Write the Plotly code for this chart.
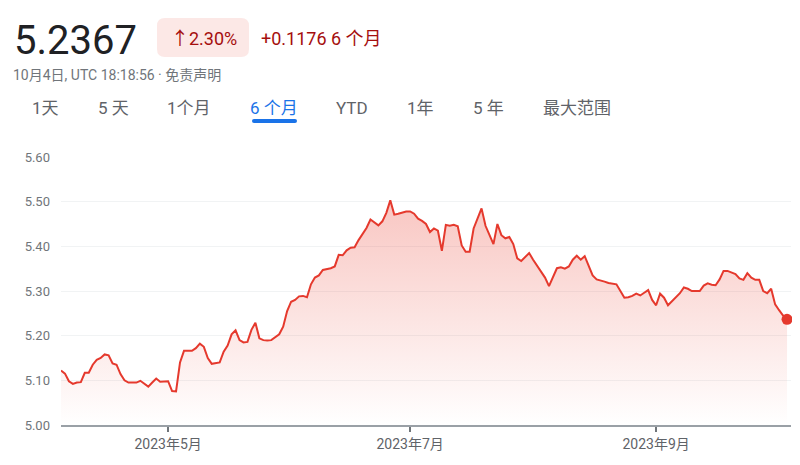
import pandas as pd
import plotly.graph_objects as go

# ---- data ----
start_date = "2023-04-04"
values = [
    5.122, 5.115, 5.098, 5.092, 5.095, 5.096, 5.117, 5.117, 5.135, 5.146,
    5.150, 5.158, 5.156, 5.138, 5.135, 5.114, 5.100, 5.095, 5.095, 5.095,
    5.099, 5.092, 5.086, 5.095, 5.104, 5.097, 5.097,
    5.098, 5.076, 5.075, 5.140, 5.166, 5.166, 5.166, 5.172, 5.182, 5.175,
    5.150, 5.137, 5.138, 5.140, 5.164, 5.178, 5.203, 5.212, 5.190, 5.185,
    5.186, 5.213, 5.229, 5.194, 5.190, 5.189, 5.190, 5.197, 5.203, 5.220,
    5.255, 5.276, 5.280, 5.288, 5.289, 5.286, 5.315, 5.330, 5.335, 5.347,
    5.349, 5.351, 5.355, 5.381, 5.380, 5.391, 5.397, 5.398, 5.414, 5.427,
    5.441, 5.460, 5.454, 5.447, 5.456, 5.475, 5.503, 5.471, 5.473, 5.476,
    5.478, 5.478, 5.473, 5.462, 5.457, 5.450, 5.432, 5.440, 5.435, 5.390,
    5.448, 5.446, 5.448, 5.445, 5.402, 5.388, 5.388, 5.440, 5.465, 5.485,
    5.446, 5.425, 5.405, 5.450, 5.425, 5.418, 5.421, 5.405, 5.373, 5.367,
    5.376, 5.385, 5.370, 5.356, 5.343, 5.330, 5.311, 5.330, 5.351, 5.353,
    5.350, 5.355, 5.370, 5.379, 5.370, 5.378, 5.355, 5.335, 5.326, 5.324,
    5.321, 5.318, 5.316, 5.315, 5.300, 5.285, 5.286, 5.289, 5.294, 5.290,
    5.296, 5.302, 5.280, 5.268, 5.294, 5.285, 5.268, 5.277, 5.284, 5.295,
    5.308, 5.305, 5.300, 5.300, 5.300, 5.312, 5.317, 5.314, 5.313, 5.326,
    5.345, 5.345, 5.341, 5.338, 5.328, 5.325, 5.340, 5.330, 5.325, 5.325,
    5.300, 5.295, 5.305, 5.270, 5.257, 5.245, 5.2367,
]
dates = pd.date_range(start_date, periods=len(values), freq="D")

x_tick_vals = ["2023-05-01", "2023-07-01", "2023-09-01"]
x_tick_text = ["2023年5月", "2023年7月", "2023年9月"]
y_tick_vals = [5.0, 5.1, 5.2, 5.3, 5.4, 5.5, 5.6]

price_text = "5.2367"
pct_text = "↑2.30%"
change_text = "+0.1176 6 个月"
time_text = "10月4日, UTC 18:18:56 · 免责声明"
tabs = ["1天", "5 天", "1个月", "6 个月", "YTD", "1年", "5 年", "最大范围"]
tab_x = [45, 113, 189, 274, 352, 420, 488, 577]
active_tab = "6 个月"

# ---- layout geometry (page has an 8px body margin) ----
OFF = 8
W, H = 800 - OFF, 465 - OFF
L, R, T, B = 61 - OFF, 9, 157 - OFF, 40
PW, PH = W - L - R, H - T - B
RED = "#e5392d"
FONT = "Roboto, 'Noto Sans CJK SC', sans-serif"


def px(x):
    return (x - OFF - L) / PW


def py(y):
    return (H + OFF - B - y) / PH


def rounded_rect(x0, y0, x1, y1, r):
    rx, ry = r / PW, r / PH
    X0, X1, Y0, Y1 = px(x0), px(x1), py(y1), py(y0)
    return (f"M {X0+rx} {Y0} L {X1-rx} {Y0} Q {X1} {Y0} {X1} {Y0+ry} "
            f"L {X1} {Y1-ry} Q {X1} {Y1} {X1-rx} {Y1} L {X0+rx} {Y1} "
            f"Q {X0} {Y1} {X0} {Y1-ry} L {X0} {Y0+ry} Q {X0} {Y0} {X0+rx} {Y0} Z")


fig = go.Figure()
fig.add_trace(go.Scatter(
    x=dates, y=values, mode="lines",
    line=dict(color=RED, width=2),
    fill="tozeroy",
    fillgradient=dict(type="vertical", start=5.0, stop=5.5,
                      colorscale=[[0, "rgba(234,67,53,0.0)"],
                                  [1, "rgba(234,67,53,0.30)"]]),
    hoverinfo="skip", showlegend=False,
))
fig.add_trace(go.Scatter(
    x=[dates[-1]], y=[values[-1]], mode="markers",
    marker=dict(color=RED, size=11),
    cliponaxis=False,
    hoverinfo="skip", showlegend=False,
))

annotations = [
    dict(x=px(12), y=py(40), text=price_text, xanchor="left", yanchor="middle",
         font=dict(size=40, color="#202124", family=FONT)),
    dict(x=px(204), y=py(38), text=pct_text, xanchor="center", yanchor="middle",
         font=dict(size=18, color="#a50e0e", family=FONT)),
    dict(x=px(259), y=py(38), text=change_text, xanchor="left", yanchor="middle",
         font=dict(size=18, color="#a50e0e", family=FONT)),
    dict(x=px(11), y=py(75), text=time_text, xanchor="left", yanchor="middle",
         font=dict(size=14, color="#70757a", family=FONT)),
]
for t, xc in zip(tabs, tab_x):
    annotations.append(dict(
        x=px(xc), y=py(108), text=t, xanchor="center", yanchor="middle",
        font=dict(size=17, color="#1a73e8" if t == active_tab else "#5f6368", family=FONT)))
for a in annotations:
    a.update(xref="paper", yref="paper", showarrow=False)

shapes = [
    dict(type="path", xref="paper", yref="paper",
         path=rounded_rect(157, 18, 249, 57, 8),
         fillcolor="#fce8e6", line=dict(width=0), layer="below"),
    dict(type="path", xref="paper", yref="paper",
         path=rounded_rect(252, 119, 297, 123, 2),
         fillcolor="#1a73e8", line=dict(width=0)),
]

fig.update_layout(
    width=W, height=H,
    margin=dict(l=L, r=R, t=T, b=B),
    paper_bgcolor="white", plot_bgcolor="white",
    annotations=annotations, shapes=shapes,
    font=dict(family=FONT),
    hovermode=False,
    xaxis=dict(
        range=["2023-04-04", "2023-10-05"],
        tickvals=x_tick_vals, ticktext=x_tick_text,
        showgrid=False, zeroline=False,
        showline=True, linecolor="#9aa0a6", linewidth=1.5,
        ticks="outside", ticklen=5, tickwidth=2, tickcolor="#70757a",
        tickfont=dict(size=14, color="#5f6368", family=FONT),
        fixedrange=True,
    ),
    yaxis=dict(
        range=[5.0, 5.6],
        tickvals=y_tick_vals, tickformat=".2f",
        showgrid=True, gridcolor="#f1f3f4", gridwidth=1,
        zeroline=False, showline=False,
        ticks="", ticklabelstandoff=10,
        tickfont=dict(size=13, color="#70757a", family=FONT),
        fixedrange=True,
    ),
)

fig.write_html("out.html", config={"displayModeBar": False})
